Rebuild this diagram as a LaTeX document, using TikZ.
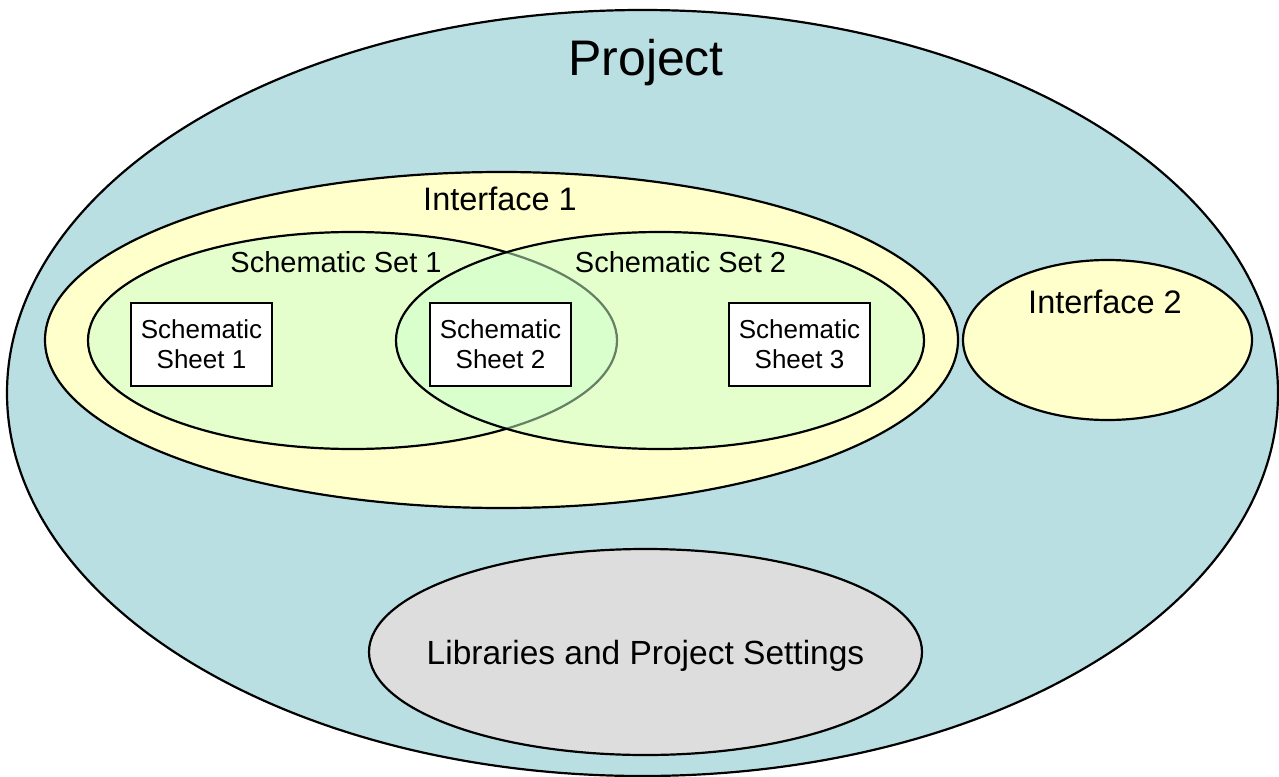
\documentclass[tikz,border=0pt]{standalone}
\usepackage{fontspec}
\setmainfont{Liberation Sans}
\usetikzlibrary{shapes.geometric}
\definecolor{projfill}{HTML}{B9DFE3}
\definecolor{ifacefill}{HTML}{FFFFCC}
\definecolor{setfill}{HTML}{CCFFCC}
\definecolor{libfill}{HTML}{DDDDDD}
\begin{document}
\begin{tikzpicture}[x=1pt,y=1pt,
  region/.style={ellipse, draw=black, line width=2.2pt, inner sep=0pt, outer sep=0pt},
  setregion/.style={region, fill=setfill, fill opacity=0.5},
  sheetbox/.style={rectangle, draw=black, fill=white, line width=2.5pt,
    minimum width=141pt, minimum height=83pt, align=center, inner sep=0pt,
    font=\fontsize{26}{30}\selectfont},
  lbl/.style={anchor=base, inner sep=0pt}]
\useasboundingbox (0,0) rectangle (1279,-776);
% regions
\node[region, fill=projfill, minimum width=1271pt, minimum height=766pt] (project) at (642.5,-393) {};
\node[region, fill=ifacefill, minimum width=913pt, minimum height=336pt] (iface1) at (501.5,-340) {};
\node[setregion, minimum width=529pt, minimum height=217pt] (set1) at (352.5,-340.5) {};
\node[setregion, minimum width=528pt, minimum height=217pt] (set2) at (660,-340.5) {};
\node[region, fill=ifacefill, minimum width=289pt, minimum height=160pt] (iface2) at (1107.5,-340) {};
\node[region, fill=libfill, minimum width=553pt, minimum height=206pt] (libs) at (645.5,-652) {};
% sheets
\node[sheetbox] (sheet1) at (201.5,-344.5) {Schematic\\Sheet 1};
\node[sheetbox] (sheet2) at (500.5,-344.5) {Schematic\\Sheet 2};
\node[sheetbox] (sheet3) at (799.5,-344.5) {Schematic\\Sheet 3};
% labels
\node[lbl, font=\fontsize{50}{60}\selectfont] (projectlbl) at (646,-75) {Project};
\node[lbl, font=\fontsize{32.5}{39}\selectfont] (iface1lbl) at (500,-210) {Interface 1};
\node[lbl, font=\fontsize{29}{35}\selectfont] (set1lbl) at (336,-272) {Schematic Set 1};
\node[lbl, font=\fontsize{29}{35}\selectfont] (set2lbl) at (680.5,-272) {Schematic Set 2};
\node[lbl, font=\fontsize{32.5}{39}\selectfont] (iface2lbl) at (1105,-313) {Interface 2};
\node[lbl, font=\fontsize{33.5}{40}\selectfont] (libslbl) at (645.5,-664) {Libraries and Project Settings};
\end{tikzpicture}
\end{document}
